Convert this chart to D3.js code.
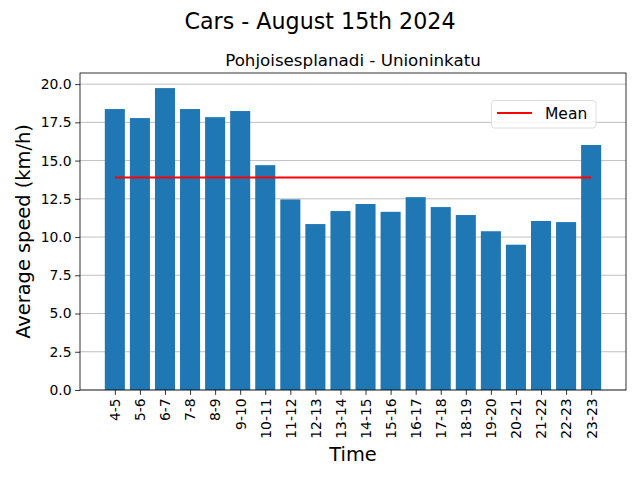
<!DOCTYPE html>
<html>
<head>
<meta charset="utf-8">
<script src="https://cdn.jsdelivr.net/npm/d3@7"></script>
<style>
body { margin: 0; background: #fff; }
svg { display: block; font-family: "DejaVu Sans", sans-serif; }
</style>
</head>
<body>
<svg id="chart" width="640" height="480"></svg>
<script>
const categories = ["4-5","5-6","6-7","7-8","8-9","9-10","10-11","11-12","12-13","13-14","14-15","15-16","16-17","17-18","18-19","19-20","20-21","21-22","22-23","23-23"];
const speeds = [18.37, 17.78, 19.74, 18.37, 17.84, 18.24, 14.70, 12.46, 10.85, 11.70, 12.16, 11.65, 12.61, 11.96, 11.44, 10.38, 9.50, 11.05, 10.98, 16.02];
const yTicks = [0, 2.5, 5, 7.5, 10, 12.5, 15, 17.5, 20];
const meanSpeed = d3.mean(speeds);

const svg = d3.select("#chart");
const L = 80, R = 626, T = 73, B = 390;

const n = categories.length;
const x = d3.scaleLinear().domain([-0.4 - 0.05 * (n - 0.2), n - 1 + 0.4 + 0.05 * (n - 0.2)]).range([L, R]);
const yMax = d3.max(speeds) * 1.05;
const y = d3.scaleLinear().domain([0, yMax]).range([B, T]);

// grid
svg.append("g").selectAll("line").data(yTicks).join("line")
  .attr("x1", L).attr("x2", R)
  .attr("y1", d => y(d)).attr("y2", d => y(d))
  .attr("stroke", "#b0b0b0").attr("stroke-width", 0.8);

// bars
svg.append("g").selectAll("rect").data(speeds).join("rect")
  .attr("x", (d, i) => x(i - 0.4))
  .attr("width", (d, i) => x(i + 0.4) - x(i - 0.4))
  .attr("y", d => y(d))
  .attr("height", d => B - y(d))
  .attr("fill", "#1f77b4");

// mean line
svg.append("line")
  .attr("x1", x(0)).attr("x2", x(n - 1))
  .attr("y1", y(meanSpeed)).attr("y2", y(meanSpeed))
  .attr("stroke", "red").attr("stroke-width", 2);

// axes
const yAxis = d3.axisLeft(y).tickValues(yTicks).tickFormat(d3.format(".1f")).tickSize(4.9).tickPadding(3.5);
const gy = svg.append("g").attr("transform", `translate(${L},0)`).call(yAxis);
gy.select(".domain").remove();
gy.selectAll("text").attr("font-size", 13.9).attr("fill", "#000").attr("font-family", "DejaVu Sans");
gy.selectAll("line").attr("stroke", "#000").attr("stroke-width", 0.8);

const xAxis = d3.axisBottom(x).tickValues(d3.range(n)).tickFormat(i => categories[i]).tickSize(4.9).tickPadding(3.5);
const gx = svg.append("g").attr("transform", `translate(0,${B})`).call(xAxis);
gx.select(".domain").remove();
gx.selectAll("line").attr("stroke", "#000").attr("stroke-width", 0.8);
gx.selectAll("text")
  .attr("font-size", 13.9).attr("fill", "#000").attr("font-family", "DejaVu Sans")
  .attr("transform", "rotate(-90)")
  .attr("text-anchor", "end")
  .attr("x", -8.4).attr("y", 0).attr("dy", "0.35em");

// frame
svg.append("rect").attr("x", L).attr("y", T).attr("width", R - L).attr("height", B - T)
  .attr("fill", "none").attr("stroke", "#000").attr("stroke-width", 0.8);

// titles
svg.append("text").attr("x", 320).attr("y", 28.5).attr("text-anchor", "middle")
  .attr("font-size", 22.2).text("Cars - August 15th 2024");
svg.append("text").attr("x", (L + R) / 2).attr("y", 65.5).attr("text-anchor", "middle")
  .attr("font-size", 16.7).text("Pohjoisesplanadi - Unioninkatu");
svg.append("text").attr("x", (L + R) / 2).attr("y", 461).attr("text-anchor", "middle")
  .attr("font-size", 19.4).text("Time");
svg.append("text").attr("transform", `translate(30,${(T + B) / 2}) rotate(-90)`).attr("text-anchor", "middle")
  .attr("font-size", 19.4).text("Average speed (km/h)");

// legend
const lg = svg.append("g");
lg.append("rect").attr("x", 491.5).attr("y", 100.5).attr("width", 104.5).attr("height", 27.5)
  .attr("rx", 3).attr("fill", "#fff").attr("fill-opacity", 0.8).attr("stroke", "#d6d6d6").attr("stroke-width", 0.8);
lg.append("line").attr("x1", 497).attr("x2", 532).attr("y1", 113).attr("y2", 113)
  .attr("stroke", "red").attr("stroke-width", 2);
lg.append("text").attr("x", 545).attr("y", 119).attr("font-size", 15.5).text("Mean");
</script>
</body>
</html>
